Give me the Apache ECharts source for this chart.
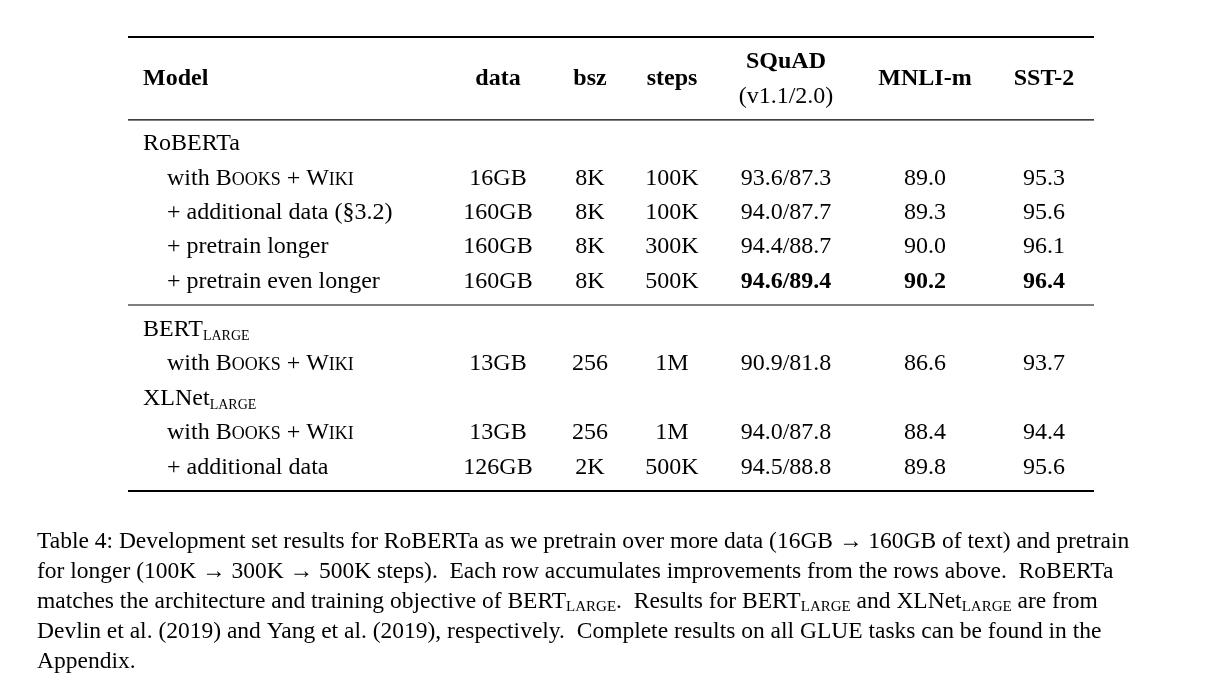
<!DOCTYPE html>
<html><head><meta charset="utf-8">
<script src="https://cdn.jsdelivr.net/npm/echarts@6/dist/echarts.min.js"></script>
<style>html,body{margin:0;background:#fff}#c{width:1219px;height:688px}</style>
</head><body><div id="c"></div>
<script>
// table content
var headers = ['Model', 'data', 'bsz', 'steps', 'SQuAD', 'MNLI-m', 'SST-2']
var models = [
  '{n|RoBERTa}',
  '{n|    with B}{sc|OOKS}{n| + W}{sc|IKI}',
  '{n|    + additional data (}{lk|§3.2}{n|)}',
  '{n|    + pretrain longer}',
  '{n|    + pretrain even longer}',
  '{n|BERT}{sub|LARGE}',
  '{n|    with B}{sc|OOKS}{n| + W}{sc|IKI}',
  '{n|XLNet}{sub|LARGE}',
  '{n|    with B}{sc|OOKS}{n| + W}{sc|IKI}',
  '{n|    + additional data}'
]
var rowPos = [0, 1, 2, 3, 4, 5.4, 6.4, 7.4, 8.4, 9.4]
var dataCol = ['', '16GB', '160GB', '160GB', '160GB', '', '13GB', '', '13GB', '126GB']
var bszCol = ['', '8K', '8K', '8K', '8K', '', '256', '', '256', '2K']
var stepsCol = ['', '100K', '100K', '300K', '500K', '', '1M', '', '1M', '500K']
var squadCol = ['', '93.6/87.3', '94.0/87.7', '94.4/88.7', '94.6/89.4', '', '90.9/81.8', '', '94.0/87.8', '94.5/88.8']
var mnliCol = ['', '89.0', '89.3', '90.0', '90.2', '', '86.6', '', '88.4', '89.8']
var sstCol = ['', '95.3', '95.6', '96.1', '96.4', '', '93.7', '', '94.4', '95.6']
var boldRow = 4
var ruleRows = [[-3.11, 2], [-0.70, 1.2], [4.68, 1.2], [10.09, 2]]

var colX = [143, 498, 590, 672, 786, 925, 1044]
var font = 'Liberation Serif'
var cols = [dataCol, bszCol, stepsCol, squadCol, mnliCol, sstCol]

var cells = []
headers.forEach(function (h, i) {
  if (h === 'SQuAD') {
    cells.push({ value: [colX[i], -2.38], t: 'SQuAD', bold: true })
    cells.push({ value: [colX[i], -1.37], t: '(v1.1/2.0)', bold: false })
  } else cells.push({ value: [colX[i], -1.89], t: h, bold: true, left: i === 0 })
})
models.forEach(function (m, r) {
  cells.push({ value: [colX[0], rowPos[r]], t: m, rich: true, left: true })
  cols.forEach(function (c, k) {
    if (c[r]) cells.push({ value: [colX[k + 1], rowPos[r]], t: c[r], bold: r === boldRow && k >= 3 })
  })
})

var rich = {
  n: { fontFamily: font, fontSize: 24, color: '#000' },
  sc: { fontFamily: font, fontSize: 18, color: '#000', padding: [3, 0, 0, 0] },
  lk: { fontFamily: font, fontSize: 24, color: '#1f3fbf' },
  sub: { fontFamily: font, fontSize: 14, color: '#000', padding: [14, 0, 0, 0] }
}

var chart = echarts.init(document.getElementById('c'))
chart.setOption({
  animation: false,
  grid: { left: 0, top: 0, width: 1219, height: 688 },
  xAxis: { type: 'value', min: 0, max: 1219, show: false },
  yAxis: { type: 'value', min: -144 / 34.4, max: (688 - 144) / 34.4, inverse: true, show: false },
  series: [
    {
      type: 'custom',
      data: cells,
      renderItem: function (params, api) {
        var d = cells[params.dataIndex]
        var p = api.coord(d.value)
        return {
          type: 'text', x: p[0], y: p[1],
          style: {
            text: d.t, rich: d.rich ? rich : undefined,
            fontFamily: font, fontSize: 24, fontWeight: d.bold ? 'bold' : 'normal',
            fill: '#000', align: d.left ? 'left' : 'center', verticalAlign: 'middle'
          }
        }
      }
    },
    {
      type: 'custom',
      data: ruleRows,
      renderItem: function (params, api) {
        var a = api.coord([128, api.value(0)]), b = api.coord([1094, api.value(0)])
        return { type: 'line', shape: { x1: a[0], y1: a[1], x2: b[0], y2: b[1] }, style: { stroke: '#000', lineWidth: api.value(1) } }
      }
    }
  ],
  graphic: [{
    type: 'text', left: 37, top: 530,
    style: {
      text: [
        '{n|Table 4: Development set results for RoBERTa as we pretrain over more data (16GB → 160GB of text) and pretrain}',
        '{n|for longer (100K → 300K → 500K steps).  Each row accumulates improvements from the rows above.  RoBERTa}',
        '{n|matches the architecture and training objective of BERT}{s|LARGE}{n|.  Results for BERT}{s|LARGE}{n| and XLNet}{s|LARGE}{n| are from}',
        '{l|Devlin et al. (2019)}{n| and }{l|Yang et al. (2019)}{n|, respectively.  Complete results on all GLUE tasks can be found in the}',
        '{n|Appendix.}'
      ].join('\n'),
      rich: {
        n: { fontFamily: font, fontSize: 23.5, color: '#000', lineHeight: 30 },
        l: { fontFamily: font, fontSize: 23.5, color: '#1f3fbf', lineHeight: 30 },
        s: { fontFamily: font, fontSize: 15, color: '#000', lineHeight: 30, padding: [10, 0, 0, 0] }
      }
    }
  }]
})
</script></body></html>
